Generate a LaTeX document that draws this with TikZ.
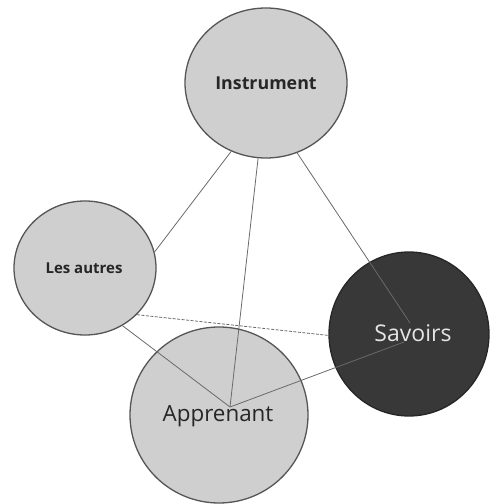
\documentclass[tikz,border=0pt]{standalone}
\usepackage{fontspec}
\setmainfont{Open Sans}
\usetikzlibrary{shapes.geometric}
\definecolor{lightfill}{HTML}{CFCFCF}
\definecolor{rimcol}{HTML}{555555}
\definecolor{darkfill}{HTML}{383838}
\definecolor{linkcol}{HTML}{6A6A6A}
\tikzset{
  bubble/.style={ellipse, inner sep=0pt, draw=rimcol, line width=1.3pt, fill=lightfill},
  darkbubble/.style={bubble, fill=darkfill, draw=black!85},
  link/.style={draw=linkcol, line width=0.8pt},
  dlink/.style={link, dash pattern=on 3pt off 1.5pt},
  lbl/.style={inner sep=0pt, text=black!85}
}
\begin{document}
\begin{tikzpicture}[x=1pt,y=1pt]
\useasboundingbox (0,0) rectangle (492,504);
% shapes
\node[bubble, minimum width=162pt, minimum height=150pt] (instr) at (266,421) {};
\node[bubble, minimum width=142pt, minimum height=134pt] (autres) at (85,236) {};
\node[darkbubble, minimum width=160pt, minimum height=164pt] (sav) at (409,170) {};
\node[bubble, minimum width=178pt, minimum height=176pt] (appr) at (219,89) {};
% hubs
\coordinate (ahub) at (230,97);
\coordinate (shubA) at (410,181);
\coordinate (shubB) at (404,162);
% connectors
\draw[link] (instr.243) -- (autres.13);
\draw[link] (instr.264) -- (ahub);
\draw[link] (instr.294) -- (shubA);
\draw[link] (autres.-57) -- (ahub);
\draw[link] (ahub) -- (shubB);
\draw[dlink] (autres.-42) -- (sav.181);
% labels
\node[lbl, font=\bfseries\fontsize{17.8}{21}\selectfont] (instr-t) at (266,421) {Instrument};
\node[lbl, font=\bfseries\fontsize{15}{18}\selectfont] (autres-t) at (84,236) {Les autres};
\node[lbl, font=\fontsize{23}{27}\selectfont, text=black!10] (sav-t) at (413,171) {Savoirs};
\node[lbl, font=\fontsize{22.4}{27}\selectfont] (appr-t) at (218,88) {Apprenant};
\end{tikzpicture}
\end{document}
